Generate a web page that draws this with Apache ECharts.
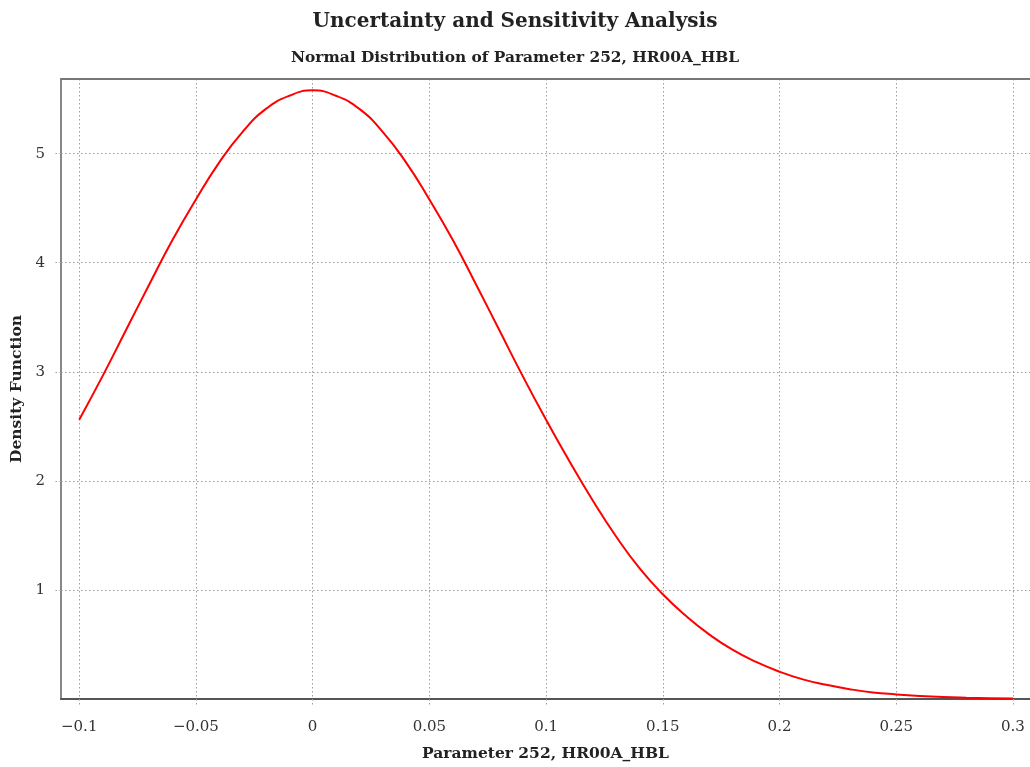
<!DOCTYPE html>
<html>
<head>
<meta charset="utf-8">
<script src="https://cdn.jsdelivr.net/npm/echarts@6/dist/echarts.min.js"></script>
<style>html,body{margin:0;padding:0;background:#fff;}#chart{width:1030px;height:767px;}</style>
</head>
<body>
<div id="chart"></div>
<script>
const titleText = 'Uncertainty and Sensitivity Analysis';
const subtitleText = 'Normal Distribution of Parameter 252, HR00A_HBL';
const xAxisName = 'Parameter 252, HR00A_HBL';
const yAxisName = 'Density Function';
const xTicks = [-0.1, -0.05, 0, 0.05, 0.1, 0.15, 0.2, 0.25, 0.3];
const yTicks = [1, 2, 3, 4, 5];
const xValues = [-0.10,-0.09,-0.08,-0.07,-0.06,-0.05,-0.04,-0.03,-0.02,-0.01,0.00,
  0.01,0.02,0.03,0.04,0.05,0.06,0.07,0.08,0.09,0.10,0.11,0.12,0.13,0.14,0.15,
  0.16,0.17,0.18,0.19,0.20,0.21,0.22,0.23,0.24,0.25,0.26,0.27,0.28,0.29,0.30];
const density = [2.56,2.96,3.38,3.80,4.21,4.58,4.92,5.20,5.41,5.53,5.58,
  5.53,5.41,5.20,4.92,4.58,4.21,3.80,3.38,2.96,2.56,2.18,1.82,1.49,1.20,0.96,
  0.76,0.59,0.45,0.34,0.25,0.18,0.13,0.09,0.06,0.042,0.028,0.018,0.012,0.008,0.005];

const seriesData = xValues.map((x, i) => [x, density[i]]);
const font = 'DejaVu Serif';
const xMin = -0.1078, xMax = 0.3073;
const gridDots = {color: '#9a9a9a', type: [1.5, 2.5], width: 1};
const chart = echarts.init(document.getElementById('chart'), null, {renderer: 'canvas'});
chart.setOption({
  backgroundColor: '#ffffff',
  animation: false,
  title: [{
    text: titleText, left: 'center', top: 7,
    textStyle: {fontFamily: font, fontWeight: 'bold', fontSize: 20, color: '#222'}
  }, {
    text: subtitleText, left: 'center', top: 45,
    textStyle: {fontFamily: font, fontWeight: 'bold', fontSize: 15.4, color: '#222'}
  }],
  grid: {left: 61, top: 79, right: 0, bottom: 65, show: false},
  xAxis: [{
    type: 'value', min: xMin, max: xMax,
    name: xAxisName, nameLocation: 'middle', nameGap: 47,
    nameTextStyle: {fontFamily: font, fontWeight: 'bold', fontSize: 15.5, color: '#222'},
    axisLine: {show: true, onZero: false, lineStyle: {color: '#555', width: 2}},
    axisTick: {show: true, length: 7, customValues: xTicks, lineStyle: gridDots},
    axisLabel: {customValues: xTicks, margin: 21, fontFamily: font, fontSize: 15, color: '#333',
      formatter: v => String(v).replace('-', '\u2212')},
    splitLine: {show: true, lineStyle: gridDots}
  }, {
    type: 'value', position: 'top', min: xMin, max: xMax,
    axisLine: {show: true, onZero: false, lineStyle: {color: '#777', width: 2}},
    axisTick: {show: false}, axisLabel: {show: false}, splitLine: {show: false}
  }],
  yAxis: {
    type: 'value', min: 0, max: 5.684,
    name: yAxisName, nameLocation: 'middle', nameGap: 36,
    nameTextStyle: {fontFamily: font, fontWeight: 'bold', fontSize: 15.5, color: '#222'},
    axisLine: {show: true, onZero: false, lineStyle: {color: '#888', width: 2}},
    axisTick: {show: true, length: 7, customValues: yTicks, lineStyle: gridDots},
    axisLabel: {customValues: yTicks, margin: 16, fontFamily: font, fontSize: 15, color: '#333'},
    splitLine: {show: true, lineStyle: gridDots}
  },
  series: [{
    type: 'line', xAxisIndex: 0, data: seriesData, smooth: true, showSymbol: false,
    lineStyle: {color: '#ff0000', width: 2}, clip: true
  }]
});
</script>
</body>
</html>
